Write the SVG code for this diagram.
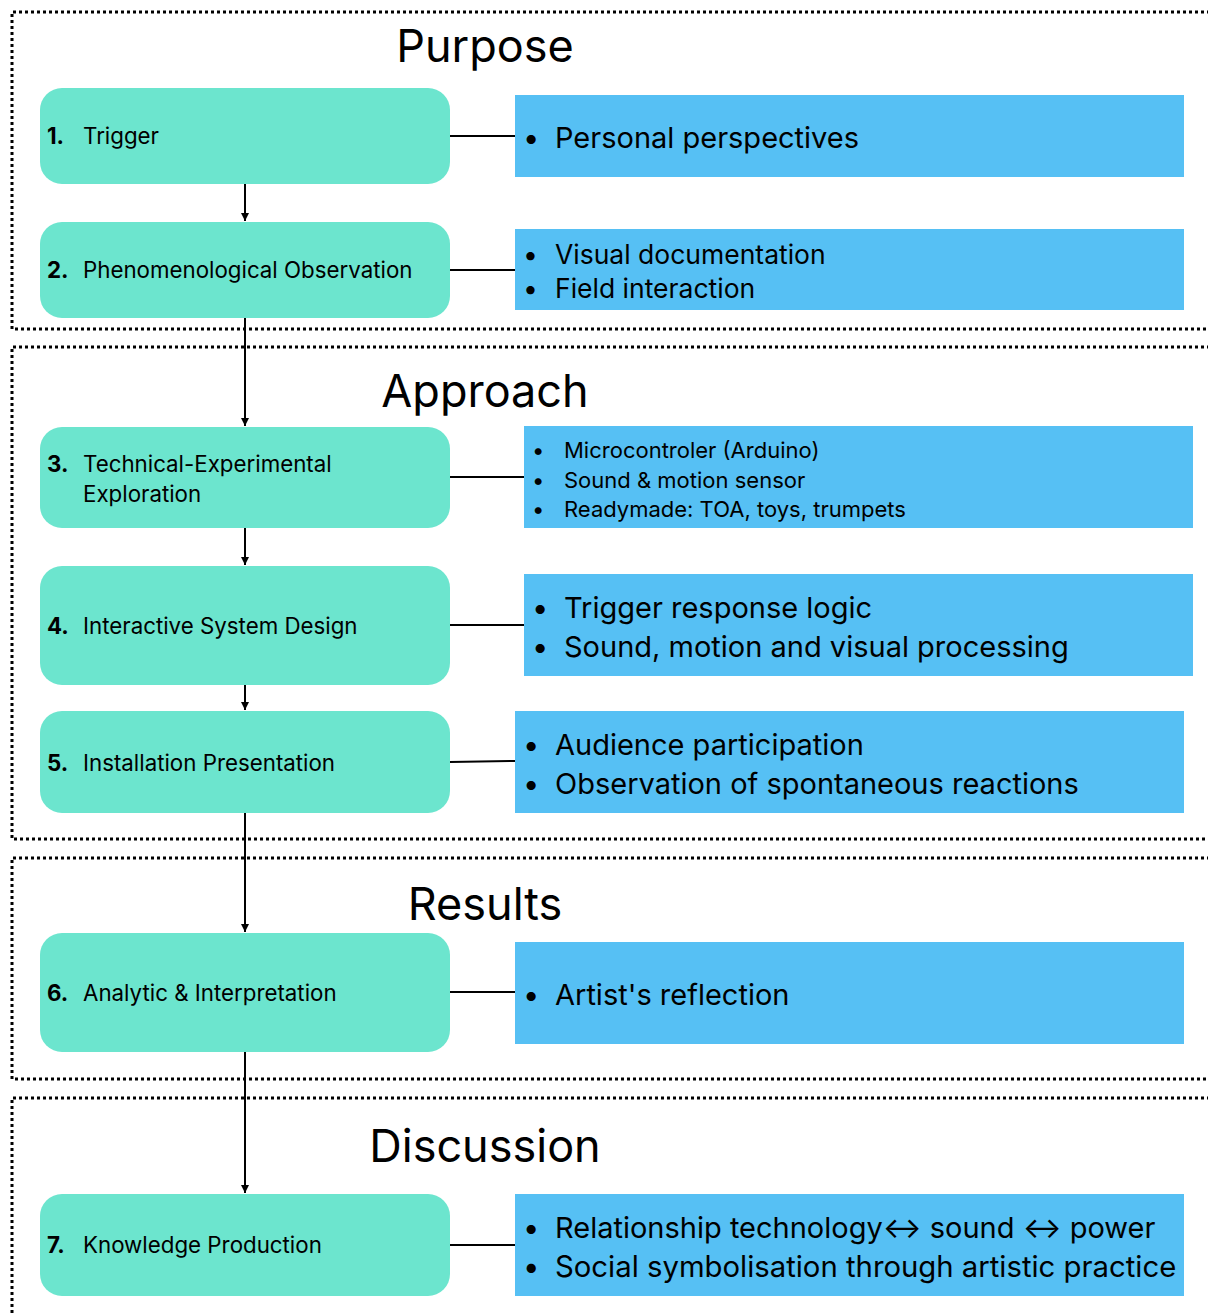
<svg xmlns="http://www.w3.org/2000/svg" width="1208" height="1313" viewBox="0 0 1208 1313">
<defs>
<marker id="arr" viewBox="0 0 10 10" refX="10" refY="5" markerWidth="8" markerHeight="8" markerUnits="userSpaceOnUse" orient="auto">
<path d="M0,0 L10,5 L0,10 z" fill="#000"/>
</marker>
<style>
.sec{fill:none;stroke:#000;stroke-width:3;stroke-dasharray:3 3}
.node{fill:#6CE5CE}
.info{fill:#56C0F4}
.title{font-family:Inter,"Liberation Sans",sans-serif;font-size:45px;fill:#000;text-anchor:middle}
.nt{font-family:Inter,"Liberation Sans",sans-serif;font-size:22.3px;fill:#000}
.num{font-weight:bold}
.bt{font-family:Inter,"Liberation Sans",sans-serif;font-size:29px;fill:#000}
.bm{font-family:Inter,"Liberation Sans",sans-serif;font-size:26.5px;fill:#000}
.bs{font-family:Inter,"Liberation Sans",sans-serif;font-size:22px;fill:#000}
.link{stroke:#000;stroke-width:2;fill:none}
</style>
</defs>
<rect width="1208" height="1313" fill="#fff"/>
<g id="sections">
<path class="sec" d="M1210,12 H12 V329 H1210"/>
<path class="sec" d="M1210,347 H12 V839 H1210"/>
<path class="sec" d="M1210,858 H12 V1079 H1210"/>
<path class="sec" d="M1210,1098 H12 V1315"/>
<text class="title" x="485" y="62">Purpose</text>
<text class="title" x="485" y="407">Approach</text>
<text class="title" x="485" y="920">Results</text>
<text class="title" x="485" y="1162">Discussion</text>
</g>
<g id="connectors">
<line class="link" x1="245" y1="184" x2="245" y2="221" marker-end="url(#arr)"/>
<line class="link" x1="245" y1="318" x2="245" y2="426" marker-end="url(#arr)"/>
<line class="link" x1="245" y1="528" x2="245" y2="565" marker-end="url(#arr)"/>
<line class="link" x1="245" y1="685" x2="245" y2="710" marker-end="url(#arr)"/>
<line class="link" x1="245" y1="813" x2="245" y2="932" marker-end="url(#arr)"/>
<line class="link" x1="245" y1="1052" x2="245" y2="1193" marker-end="url(#arr)"/>
<line class="link" x1="450" y1="136" x2="515" y2="136"/>
<line class="link" x1="450" y1="270" x2="515" y2="270"/>
<line class="link" x1="450" y1="477" x2="524" y2="477"/>
<line class="link" x1="450" y1="625" x2="524" y2="625"/>
<line class="link" x1="450" y1="762" x2="515" y2="761"/>
<line class="link" x1="450" y1="992" x2="515" y2="992"/>
<line class="link" x1="450" y1="1245" x2="515" y2="1245"/>
</g>
<g id="n1">
<rect class="node" x="40" y="88" width="410" height="96" rx="22"/>
<text class="nt" x="47" y="144"><tspan class="num">1.</tspan><tspan x="83">Trigger</tspan></text>
</g>
<g id="n2">
<rect class="node" x="40" y="222" width="410" height="96" rx="22"/>
<text class="nt" x="47" y="278"><tspan class="num">2.</tspan><tspan x="83">Phenomenological Observation</tspan></text>
</g>
<g id="n3">
<rect class="node" x="40" y="427" width="410" height="101" rx="22"/>
<text class="nt" x="47" y="472"><tspan class="num">3.</tspan><tspan x="83">Technical-Experimental</tspan></text>
<text class="nt" x="83" y="502">Exploration</text>
</g>
<g id="n4">
<rect class="node" x="40" y="566" width="410" height="119" rx="22"/>
<text class="nt" x="47" y="634"><tspan class="num">4.</tspan><tspan x="83">Interactive System Design</tspan></text>
</g>
<g id="n5">
<rect class="node" x="40" y="711" width="410" height="102" rx="22"/>
<text class="nt" x="47" y="771"><tspan class="num">5.</tspan><tspan x="83">Installation Presentation</tspan></text>
</g>
<g id="n6">
<rect class="node" x="40" y="933" width="410" height="119" rx="22"/>
<text class="nt" x="47" y="1001"><tspan class="num">6.</tspan><tspan x="83">Analytic &amp; Interpretation</tspan></text>
</g>
<g id="n7">
<rect class="node" x="40" y="1194" width="410" height="102" rx="22"/>
<text class="nt" x="47" y="1253"><tspan class="num">7.</tspan><tspan x="83">Knowledge Production</tspan></text>
</g>
<g id="b1">
<rect class="info" x="515" y="95" width="669" height="82"/>
<text class="bt" x="523" y="148">•<tspan x="555">Personal perspectives</tspan></text>
</g>
<g id="b2">
<rect class="info" x="515" y="229" width="669" height="81"/>
<text class="bm" x="523" y="264">•<tspan x="555">Visual documentation</tspan></text>
<text class="bm" x="523" y="298">•<tspan x="555">Field interaction</tspan></text>
</g>
<g id="b3">
<rect class="info" x="524" y="426" width="669" height="102"/>
<text class="bs" x="532" y="458">•<tspan x="564">Microcontroler (Arduino)</tspan></text>
<text class="bs" x="532" y="488">•<tspan x="564">Sound &amp; motion sensor</tspan></text>
<text class="bs" x="532" y="517">•<tspan x="564">Readymade: TOA, toys, trumpets</tspan></text>
</g>
<g id="b4">
<rect class="info" x="524" y="574" width="669" height="102"/>
<text class="bt" x="532" y="618">•<tspan x="564">Trigger response logic</tspan></text>
<text class="bt" x="532" y="657">•<tspan x="564">Sound, motion and visual processing</tspan></text>
</g>
<g id="b5">
<rect class="info" x="515" y="711" width="669" height="102"/>
<text class="bt" x="523" y="755">•<tspan x="555">Audience participation</tspan></text>
<text class="bt" x="523" y="794">•<tspan x="555">Observation of spontaneous reactions</tspan></text>
</g>
<g id="b6">
<rect class="info" x="515" y="942" width="669" height="102"/>
<text class="bt" x="523" y="1005">•<tspan x="555">Artist's reflection</tspan></text>
</g>
<g id="b7">
<rect class="info" x="515" y="1194" width="669" height="102"/>
<text class="bt" x="523" y="1238">•<tspan x="555">Relationship technology↔ sound ↔ power</tspan></text>
<text class="bt" x="523" y="1277" style="font-size:29.3px">•<tspan x="555">Social symbolisation through artistic practice</tspan></text>
</g>
</svg>
